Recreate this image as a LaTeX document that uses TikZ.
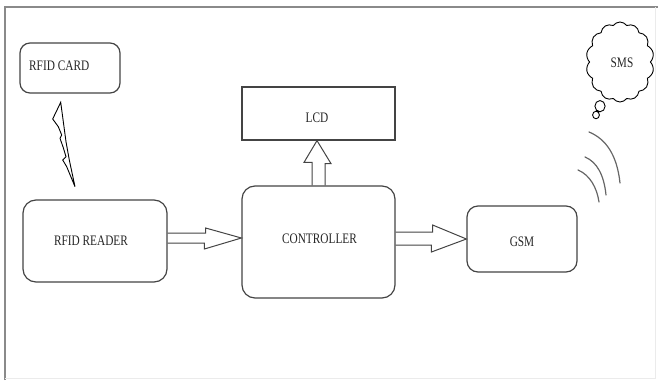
\documentclass[tikz,border=0pt]{standalone}
\usepackage{fontspec}
\newfontfamily\condfont[FakeStretch=0.78]{Liberation Serif}
\usetikzlibrary{calc,shapes.symbols,shapes.callouts}
\definecolor{boxgray}{HTML}{444444}
\definecolor{framegray}{HTML}{8A8A8A}
\tikzset{
  px/.style={x=1pt,y=-1pt},
  lbl/.style={font=\condfont\fontsize{14.5}{14.5}\selectfont, text=black!85, inner sep=0pt},
  rbox/.style={draw=boxgray, line width=1.2pt, rounded corners=13pt, inner sep=0pt},
  sbox/.style={draw=boxgray, line width=1.2pt, inner sep=0pt},
  blk/.style={draw=boxgray, line width=1pt, line join=miter},
  wave/.style={draw=black!60, line width=1.2pt, line cap=round},
}
\begin{document}
\begin{tikzpicture}[px]
\useasboundingbox (0,0) rectangle (658,380);
% frame
\draw[framegray, line width=1.6pt] (5,380) -- (5,7) -- (658,7);
\draw[black!8, line width=0.8pt] (655,7) -- (655,378) -- (5,378);

% boxes
\node[rbox, rounded corners=10pt, minimum width=100pt, minimum height=50pt] (card) at (70,68) {};
\node[lbl, anchor=west] (cardtxt) at (29,66) {RFID CARD};
\node[sbox, minimum width=153pt, minimum height=53pt] (lcd) at (318.5,113.5) {};
\node[lbl] (lcdtxt) at (317,118) {LCD};
\node[rbox, minimum width=144pt, minimum height=82pt] (reader) at (95,241) {};
\node[lbl] (readertxt) at (91,241) {RFID READER};
\node[rbox, minimum width=153pt, minimum height=112pt] (ctrl) at (318.5,242) {};
\node[lbl] (ctrltxt) at (319.5,239) {CONTROLLER};
\node[rbox, rounded corners=11pt, minimum width=110pt, minimum height=66pt] (gsm) at (522,239) {};
\node[lbl] (gsmtxt) at (522,242) {GSM};

% SMS cloud
\node[cloud callout, draw=black, line width=0.9pt, cloud puffs=14, cloud puff arc=110,
      aspect=0.9, minimum width=68pt, minimum height=80pt, inner sep=0pt,
      callout absolute pointer={(596,115)}] (sms) at (620,62) {};
\node[lbl] (smstxt) at (622,63) {SMS};

% lightning bolt
\coordinate (boltTop) at (60.7,102.3);
\coordinate (boltBot) at (75,186.7);
\draw[black, line width=0.9pt, line join=miter] (boltTop) -- (52.7,119) -- (58.3,126.7) -- (61.7,135)
  -- (60,138.3) -- (63.3,147.7) -- (66,156.7) -- (62.7,160) -- (66.7,166.7) -- (boltBot)
  -- (69.3,160) -- (66,141.7) -- cycle;

% block arrows
\draw[blk] ($(reader.east)+(0,-8)$) -- ++(38,0) -- ++(0,-5) -- ($(ctrl.west)+(0,-4)$)
  -- ($(ctrl.west)+(-37,7)$) -- ++(0,-6) -- ($(reader.east)+(0,2)$);
\draw[blk] ($(ctrl.east)+(0,-10)$) -- ++(37,0) -- ++(0,-7) -- (gsm.west)
  -- ($(gsm.west)+(-35,13)$) -- ++(0,-7) -- ($(ctrl.east)+(0,3)$);
\draw[blk] ($(ctrl.north)+(-6.5,0)$) -- ++(0,-23) -- ++(-8,0) -- ($(lcd.south)+(-1.5,0)$)
  -- ($(lcd.south)+(12.5,23)$) -- ++(-6,0) -- ($(ctrl.north)+(6.5,0)$);

% radio waves
\draw[wave] (589,132) .. controls (606,139) and (617,155) .. (620,183);
\draw[wave] (585,157) .. controls (597,162) and (604,175) .. (606,195);
\draw[wave] (578,170) .. controls (590,175) and (597,188) .. (599,202);
\end{tikzpicture}
\end{document}
